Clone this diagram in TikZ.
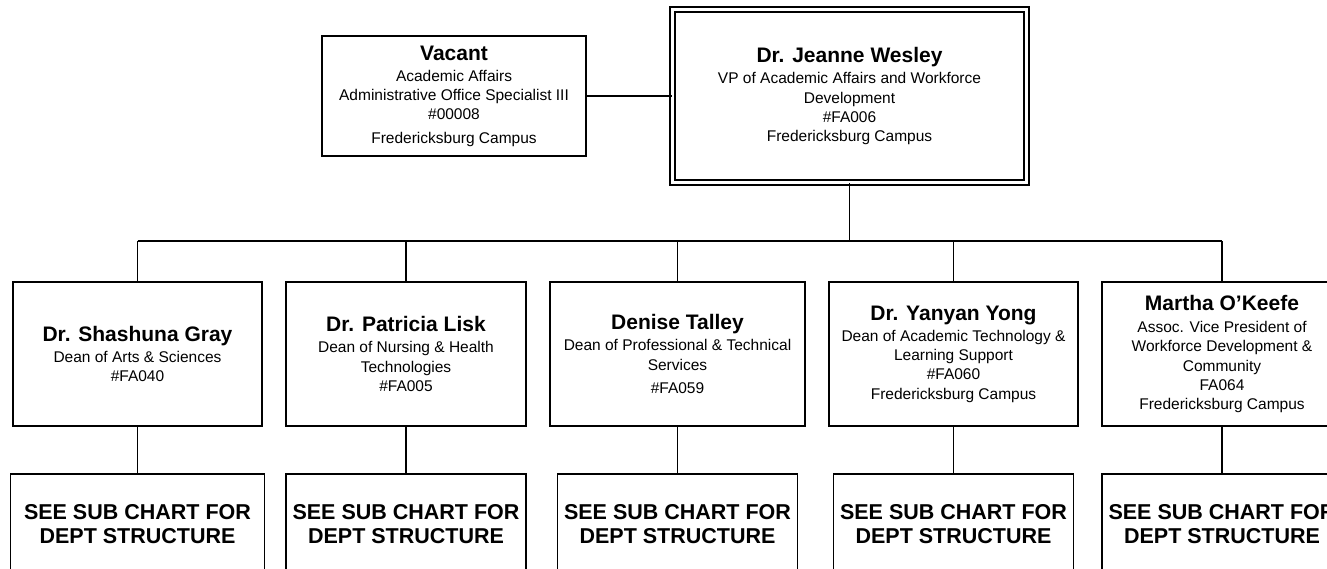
\documentclass[tikz,border=0pt]{standalone}
\usepackage{fontspec}
\setmainfont{Liberation Sans}
\newcommand{\pname}[1]{{\bfseries\fontsize{21}{24}\selectfont #1}}

\begin{document}
\begin{tikzpicture}[x=1pt,y=-1pt,
    box/.style={draw,line width=1.9pt,inner sep=0pt,align=center,
      font=\fontsize{15.5}{19.3}\selectfont},
    dean/.style={box,minimum height=144pt},
    subbox/.style={draw,line width=1.9pt,inner sep=0pt,align=center,
      minimum width=240pt,minimum height=100pt,
      font=\bfseries\fontsize{21.5}{24}\selectfont},
    link/.style={line width=1.7pt}]
    \useasboundingbox (0,0) rectangle (1327,568);
    \clip (0,0) rectangle (1327,568);
    % top row
    \node[box,minimum width=264pt,minimum height=120pt] (vacant) at (454,96)
        {\pname{Vacant}\\[2pt]Academic Affairs\\Administrative Office Specialist III\\\#00008\\[4pt]Fredericksburg Campus};
    \node[box,double,double distance=3pt,minimum width=354pt,minimum height=173pt] (vp) at (849.5,96)
        {\pname{Dr. Jeanne Wesley}\\[2pt]VP of Academic Affairs and Workforce\\Development\\\#FA006\\Fredericksburg Campus};
    \draw[link] (vacant.east) -- (vp.west);
    % deans
    \node[dean,minimum width=249pt] (gray) at (137.5,354)
        {\pname{Dr. Shashuna Gray}\\[2pt]Dean of Arts \& Sciences\\\#FA040};
    \node[dean,minimum width=240pt] (lisk) at (406,354)
        {\pname{Dr. Patricia Lisk}\\[2pt]Dean of Nursing \& Health\\Technologies\\\#FA005};
    \node[dean,minimum width=255pt] (talley) at (677.5,354)
        {\pname{Denise Talley}\\[2pt]Dean of Professional \& Technical\\Services\\[4pt]\#FA059};
    \node[dean,minimum width=249pt] (yong) at (953.5,354)
        {\pname{Dr. Yanyan Yong}\\[2pt]Dean of Academic Technology \&\\Learning Support\\\#FA060\\Fredericksburg Campus};
    \node[dean,minimum width=240pt] (okeefe) at (1222,354)
        {\pname{Martha O’Keefe}\\[3pt]Assoc. Vice President of\\Workforce Development \&\\Community\\FA064\\Fredericksburg Campus};
    % sub charts
    \node[subbox,minimum width=254pt] (graysub) at (137.5,524) {SEE SUB CHART FOR\\DEPT STRUCTURE};
    \node[subbox] (lisksub) at (406,524) {SEE SUB CHART FOR\\DEPT STRUCTURE};
    \node[subbox] (talleysub) at (677.5,524) {SEE SUB CHART FOR\\DEPT STRUCTURE};
    \node[subbox] (yongsub) at (953.5,524) {SEE SUB CHART FOR\\DEPT STRUCTURE};
    \node[subbox] (okeefesub) at (1222,524) {SEE SUB CHART FOR\\DEPT STRUCTURE};
    % bus
    \coordinate (bus) at (849.5,241);
    \draw[link] (vp.south) -- (bus);
    \draw[link] (gray.north |- bus) -- (okeefe.north |- bus);
    \draw[link] (gray.north) -- (gray.north |- bus);
    \draw[link] (lisk.north) -- (lisk.north |- bus);
    \draw[link] (talley.north) -- (talley.north |- bus);
    \draw[link] (yong.north) -- (yong.north |- bus);
    \draw[link] (okeefe.north) -- (okeefe.north |- bus);
    \draw[link] (gray.south) -- (graysub.north);
    \draw[link] (lisk.south) -- (lisksub.north);
    \draw[link] (talley.south) -- (talleysub.north);
    \draw[link] (yong.south) -- (yongsub.north);
    \draw[link] (okeefe.south) -- (okeefesub.north);
\end{tikzpicture}
\end{document}
